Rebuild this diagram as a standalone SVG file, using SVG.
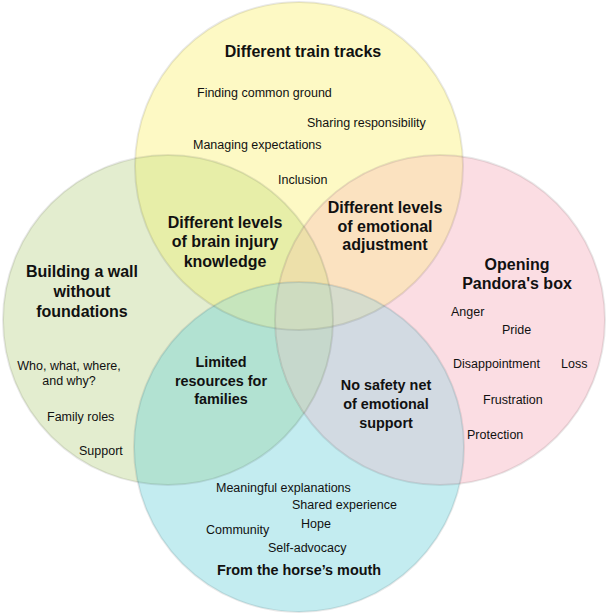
<svg xmlns="http://www.w3.org/2000/svg" width="606" height="613" viewBox="0 0 606 613">
<style>
text{font-family:"Liberation Sans",Arial,Helvetica,sans-serif;fill:#111}
.t{font-size:16px;font-weight:bold;text-anchor:middle}
.u{font-size:14.4px;font-weight:bold;text-anchor:middle}
.s{font-size:12.5px}
.edge{fill:none;stroke:#000;stroke-opacity:0.09;stroke-width:2}
</style>
<defs>
<clipPath id="cY"><circle cx="299" cy="166" r="164"/></clipPath>
<clipPath id="cG"><circle cx="168" cy="320" r="165"/></clipPath>
<clipPath id="cP"><circle cx="440" cy="320" r="165"/></clipPath>
<clipPath id="cB"><circle cx="299" cy="447" r="165"/></clipPath>
</defs>
<rect width="606" height="613" fill="#fff"/>
<g id="fills">
<circle cx="299" cy="166" r="164" fill="#fdf9c4"/>
<circle cx="168" cy="320" r="165" fill="#e3edcf"/>
<circle cx="440" cy="320" r="165" fill="#fbdde3"/>
<circle cx="299" cy="447" r="165" fill="#c3ecf0"/>
<g clip-path="url(#cY)"><circle cx="168" cy="320" r="165" fill="#e7eea8"/><circle cx="440" cy="320" r="165" fill="#fbe2c0"/><circle cx="299" cy="447" r="165" fill="#d0e4c8"/></g>
<g clip-path="url(#cB)"><circle cx="168" cy="320" r="165" fill="#b2e2d2"/><circle cx="440" cy="320" r="165" fill="#d2dae2"/></g>
<g clip-path="url(#cG)"><circle cx="440" cy="320" r="165" fill="#d8dcc8"/></g>
<g clip-path="url(#cY)"><g clip-path="url(#cG)"><circle cx="440" cy="320" r="165" fill="#ede0aa"/><circle cx="299" cy="447" r="165" fill="#c6e5bc"/></g></g>
<g clip-path="url(#cY)"><g clip-path="url(#cP)"><circle cx="299" cy="447" r="165" fill="#d6dccc"/></g></g>
<g clip-path="url(#cB)"><g clip-path="url(#cG)"><circle cx="440" cy="320" r="165" fill="#c6d8cc"/></g></g>
<g clip-path="url(#cY)"><g clip-path="url(#cG)"><g clip-path="url(#cP)"><circle cx="299" cy="447" r="165" fill="#cedcc0"/></g></g></g>
</g>
<g id="edges">
<circle class="edge" cx="299" cy="166" r="164"/>
<circle class="edge" cx="168" cy="320" r="165"/>
<circle class="edge" cx="440" cy="320" r="165"/>
<circle class="edge" cx="299" cy="447" r="165"/>
</g>
<g id="train-tracks">
<text class="t" x="303" y="57">Different train tracks</text>
<text class="s" x="197" y="97">Finding common ground</text>
<text class="s" x="307" y="127">Sharing responsibility</text>
<text class="s" x="193" y="149">Managing expectations</text>
<text class="s" x="278" y="184">Inclusion</text>
</g>
<g id="wall">
<text class="t" x="82" y="277">Building a wall</text>
<text class="t" x="82" y="297">without</text>
<text class="t" x="82" y="317">foundations</text>
<text class="s" x="69" y="370" text-anchor="middle">Who, what, where,</text>
<text class="s" x="69" y="385" text-anchor="middle">and why?</text>
<text class="s" x="47" y="421">Family roles</text>
<text class="s" x="79" y="455">Support</text>
</g>
<g id="pandora">
<text class="t" x="517" y="270">Opening</text>
<text class="t" x="517" y="289">Pandora's box</text>
<text class="s" x="451" y="316">Anger</text>
<text class="s" x="502" y="334">Pride</text>
<text class="s" x="453" y="368">Disappointment</text>
<text class="s" x="561" y="368">Loss</text>
<text class="s" x="483" y="404">Frustration</text>
<text class="s" x="467" y="439">Protection</text>
</g>
<g id="horse">
<text class="s" x="216" y="492">Meaningful explanations</text>
<text class="s" x="292" y="509">Shared experience</text>
<text class="s" x="206" y="534">Community</text>
<text class="s" x="301" y="528">Hope</text>
<text class="s" x="268" y="552">Self-advocacy</text>
<text class="u" x="299" y="575">From the horse’s mouth</text>
</g>
<g id="brain-injury">
<text class="t" x="225" y="228">Different levels</text>
<text class="t" x="225" y="247">of brain injury</text>
<text class="t" x="225" y="267">knowledge</text>
</g>
<g id="emotional-adjustment">
<text class="t" x="385" y="213">Different levels</text>
<text class="t" x="385" y="232">of emotional</text>
<text class="t" x="385" y="250">adjustment</text>
</g>
<g id="limited-resources">
<text class="u" x="221" y="367">Limited</text>
<text class="u" x="221" y="386">resources for</text>
<text class="u" x="221" y="404">families</text>
</g>
<g id="safety-net">
<text class="u" x="386" y="390">No safety net</text>
<text class="u" x="386" y="409">of emotional</text>
<text class="u" x="386" y="428">support</text>
</g>
</svg>
